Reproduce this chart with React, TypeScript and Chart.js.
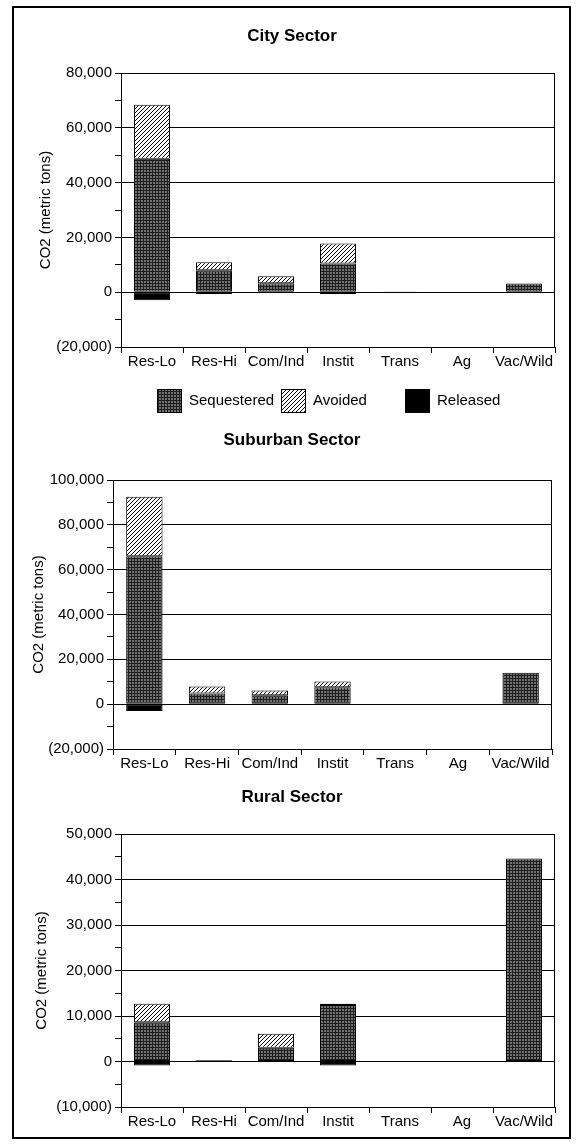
import React, { useEffect, useRef } from 'react';
import { Chart, registerables } from 'chart.js';

Chart.register(...registerables);
Chart.defaults.color = '#000';

// ---------- data ----------
const categories = ['Res-Lo', 'Res-Hi', 'Com/Ind', 'Instit', 'Trans', 'Ag', 'Vac/Wild'];
const seriesNames = ['Sequestered', 'Avoided', 'Released'];
const sectorTitles = ['City Sector', 'Suburban Sector', 'Rural Sector'];
const yAxisTitle = 'CO2 (metric tons)';

const citySequestered = [48700, 8000, 3300, 10500, 300, 0, 3200];
const cityAvoided = [19700, 2900, 2500, 7300, 0, 0, 0];
const cityReleased = [-2900, -700, -300, -700, 0, 0, 0];

const suburbanSequestered = [66000, 4800, 4000, 7500, 0, 200, 14000];
const suburbanAvoided = [26500, 3100, 2100, 2600, 0, 0, 0];
const suburbanReleased = [-3100, -300, -200, -300, 0, 0, 0];

const ruralSequestered = [8600, 300, 3000, 12400, 0, 0, 44600];
const ruralAvoided = [4100, 0, 3100, 300, 0, 0, 0];
const ruralReleased = [-900, 0, 0, -900, 0, 0, 0];

// min, max, major step, minor step
const cityAxis = [-20000, 80000, 20000, 10000];
const suburbanAxis = [-20000, 100000, 20000, 10000];
const ruralAxis = [-10000, 50000, 10000, 5000];

// ---------- styling / layout ----------
const FONT = '"Liberation Sans", Arial, Helvetica, sans-serif';

type Geo = {
  top: number; height: number; side: number; padBottom: number;
  tTop: number; tBottom: number; yWidth: number; yTitlePad: number;
};

const geoCity: Geo = { top: 10, height: 410, side: 15, padBottom: 45, tTop: 16, tBottom: 26.6, yWidth: 92, yTitlePad: 8 };
const geoSuburban: Geo = { top: 420, height: 360, side: 18, padBottom: 3, tTop: 10, tBottom: 29.6, yWidth: 81, yTitlePad: -2 };
const geoRural: Geo = { top: 780, height: 358, side: 15, padBottom: 3, tTop: 7, tBottom: 26.6, yWidth: 92, yTitlePad: 4 };

function makePatterns() {
  const c1 = document.createElement('canvas');
  c1.width = 3; c1.height = 3;
  const g1 = c1.getContext('2d')!;
  g1.fillStyle = '#727272';
  g1.fillRect(0, 0, 3, 3);
  g1.fillStyle = '#1e1e1e';
  g1.fillRect(0, 0, 1, 3);
  g1.fillRect(0, 0, 3, 1);
  const seq = g1.createPattern(c1, 'repeat');

  const c2 = document.createElement('canvas');
  c2.width = 4; c2.height = 4;
  const g2 = c2.getContext('2d')!;
  g2.fillStyle = '#fff';
  g2.fillRect(0, 0, 4, 4);
  g2.strokeStyle = '#000';
  g2.lineWidth = 1;
  g2.beginPath();
  g2.moveTo(-1, 5); g2.lineTo(5, -1);
  g2.moveTo(-3, 3); g2.lineTo(3, -3);
  g2.moveTo(1, 7); g2.lineTo(7, 1);
  g2.stroke();
  const avo = g2.createPattern(c2, 'repeat');
  return { seq, avo };
}

function fmt(v: number) {
  const s = Math.abs(v).toLocaleString('en-US');
  return v < 0 ? `(${s})` : s;
}

const framePlugin = {
  id: 'frame',
  afterDatasetsDraw(chart: any) {
    const { ctx, chartArea: a } = chart;
    ctx.save();
    ctx.strokeStyle = '#000';
    ctx.lineWidth = 1;
    const x = Math.round(a.right) - 0.5;
    ctx.beginPath();
    ctx.moveTo(x, a.top);
    ctx.lineTo(x, a.bottom);
    ctx.stroke();
    ctx.restore();
  },
};

const colLegendPlugin = {
  id: 'colLegend',
  afterDraw(chart: any, _args: any, opts: any) {
    if (!opts || !opts.show) return;
    const { ctx } = chart;
    ctx.save();
    ctx.font = `15px ${FONT}`;
    ctx.textBaseline = 'middle';
    ctx.textAlign = 'left';
    chart.data.datasets.forEach((ds: any, i: number) => {
      const x = opts.x + i * opts.col;
      const y = opts.y;
      ctx.fillStyle = ds.backgroundColor;
      ctx.fillRect(x, y - 12, 25, 24);
      ctx.strokeStyle = '#000';
      ctx.lineWidth = 1;
      ctx.strokeRect(x + 0.5, y - 11.5, 24, 23);
      ctx.fillStyle = '#000';
      ctx.fillText(ds.label, x + 32, y);
    });
    ctx.restore();
  },
};

type PanelProps = {
  g: Geo; title: string; seq: number[]; avo: number[]; rel: number[]; axis: number[]; legend: boolean;
};

function Panel({ g, title, seq, avo, rel, axis, legend }: PanelProps) {
  const ref = useRef<HTMLCanvasElement>(null);
  useEffect(() => {
    const p = makePatterns();
    const nz = (a: number[]) => a.map((v) => (v === 0 ? null : v));
    const chart = new Chart(ref.current!, {
      type: 'bar',
      data: {
        labels: categories,
        datasets: [
          { label: seriesNames[0], data: nz(seq), backgroundColor: p.seq as any },
          { label: seriesNames[1], data: nz(avo), backgroundColor: p.avo as any },
          { label: seriesNames[2], data: nz(rel), backgroundColor: '#000' },
        ],
      },
      options: {
        responsive: false,
        animation: false,
        datasets: {
          bar: {
            borderColor: '#000',
            borderWidth: 1,
            borderSkipped: false,
            categoryPercentage: 1,
            barPercentage: 0.58,
          },
        } as any,
        layout: { padding: { top: 0, left: g.side, right: g.side, bottom: g.padBottom } },
        plugins: {
          legend: { display: false },
          tooltip: { enabled: false },
          title: {
            display: true,
            text: title,
            color: '#000',
            font: { family: FONT, size: 17, weight: 'bold' },
            padding: { top: g.tTop, bottom: g.tBottom },
          },
          colLegend: legend ? { show: true, x: 143, y: 391, col: 124 } : { show: false },
        } as any,
        scales: {
          x: {
            stacked: true,
            grid: { drawOnChartArea: false, color: '#000', tickLength: 6, offset: true },
            border: { color: '#000' },
            ticks: { color: '#000', font: { family: FONT, size: 15 }, padding: 0, maxRotation: 0, autoSkip: false },
            afterFit: (s: any) => { s.height = 28; },
          },
          y: {
            stacked: true,
            min: axis[0],
            max: axis[1],
            grid: {
              color: (c: any) => (c.tick && c.tick.value % axis[2] === 0 ? '#000' : 'rgba(0,0,0,0)'),
              tickColor: '#000',
              tickLength: 6,
            },
            border: { color: '#000' },
            ticks: {
              stepSize: axis[3],
              autoSkip: false,
              color: '#000',
              font: { family: FONT, size: 15 },
              padding: 3,
              callback: (v: any) => (Number(v) % axis[2] === 0 ? fmt(Number(v)) : ''),
            },
            title: {
              display: true,
              text: yAxisTitle,
              color: '#000',
              font: { family: FONT, size: 15 },
              padding: { top: g.yTitlePad, bottom: 0 },
            },
            afterFit: (s: any) => { s.width = g.yWidth; },
          },
        } as any,
      },
      plugins: [framePlugin, colLegendPlugin],
    });
    return () => chart.destroy();
  }, []);
  return (
    <canvas
      ref={ref}
      width={556}
      height={g.height}
      style={{ position: 'absolute', left: 14, top: g.top, display: 'block' }}
    />
  );
}

export default function App() {
  return (
    <div style={{ position: 'absolute', left: 0, top: 0, width: 582, height: 1145, background: '#fff', overflow: 'hidden' }}>
      <Panel g={geoCity} title={sectorTitles[0]} seq={citySequestered} avo={cityAvoided} rel={cityReleased} axis={cityAxis} legend={true} />
      <Panel g={geoSuburban} title={sectorTitles[1]} seq={suburbanSequestered} avo={suburbanAvoided} rel={suburbanReleased} axis={suburbanAxis} legend={false} />
      <Panel g={geoRural} title={sectorTitles[2]} seq={ruralSequestered} avo={ruralAvoided} rel={ruralReleased} axis={ruralAxis} legend={false} />
      <div style={{ position: 'absolute', left: 12, top: 6, width: 559, height: 1133, border: '2px solid #000', boxSizing: 'border-box', pointerEvents: 'none' }} />
    </div>
  );
}
